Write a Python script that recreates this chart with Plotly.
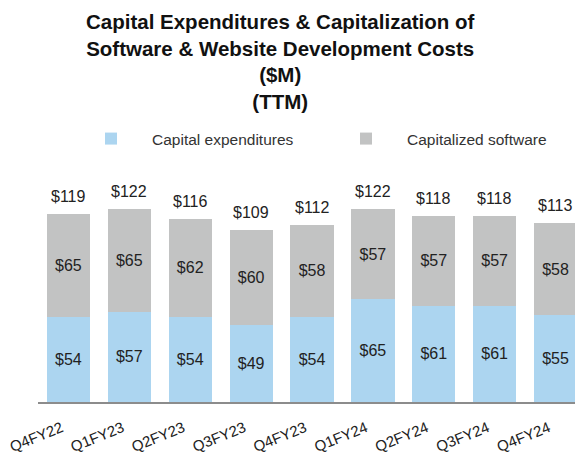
import plotly.graph_objects as go

quarters = ["Q4FY22", "Q1FY23", "Q2FY23", "Q3FY23", "Q4FY23", "Q1FY24", "Q2FY24", "Q3FY24", "Q4FY24"]
capex = [54, 57, 54, 49, 54, 65, 61, 61, 55]
cap_software = [65, 65, 62, 60, 58, 57, 57, 57, 58]
totals = [119, 122, 116, 109, 112, 122, 118, 118, 113]

FONT = "Liberation Sans, Arial, sans-serif"
BLUE = "#acd5f0"
GREY = "#c2c3c3"
# the page body adds an 8px margin, so the figure is sized to fit the window
W, H = 575, 464
T, B, L = 152, 70, 30
PX_PER_UNIT = 1.58

fig = go.Figure()
fig.add_trace(go.Bar(
    x=quarters, y=capex, name="Capital expenditures",
    marker=dict(color=BLUE, line=dict(width=0)),
    text=[f"${v}" for v in capex], textposition="inside", insidetextanchor="middle",
    textfont=dict(size=16, color="#222222", family=FONT),
    hoverinfo="skip",
))
fig.add_trace(go.Bar(
    x=quarters, y=cap_software, name="Capitalized software",
    marker=dict(color=GREY, line=dict(width=0)),
    text=[f"${v}" for v in cap_software], textposition="inside", insidetextanchor="middle",
    textfont=dict(size=16, color="#222222", family=FONT),
    hoverinfo="skip",
))

for q, t in zip(quarters, totals):
    fig.add_annotation(
        x=q, y=t, xref="x", yref="y", text=f"${t}", showarrow=False,
        yanchor="bottom", yshift=7,
        font=dict(size=16, color="#222222", family=FONT),
    )

paper_h = H - T - B
fig.add_annotation(
    xref="paper", yref="paper", x=(272 - L) / (W - L), y=1 + T / paper_h,
    xanchor="center", yanchor="top", showarrow=False, align="center",
    text="<b>Capital Expenditures & Capitalization of<br>Software & Website Development Costs<br>($M)<br>(TTM)</b>",
    font=dict(size=20.5, color="#111111", family=FONT),
)

fig.update_layout(
    width=W, height=H,
    barmode="stack", bargap=0.29,
    paper_bgcolor="white", plot_bgcolor="white",
    margin=dict(l=L, r=0, t=T, b=B, autoexpand=False),
    font=dict(family=FONT, color="#222222"),
    legend=dict(
        orientation="h", xref="container", yref="container",
        x=62 / W, y=1 - 131 / H, xanchor="left", yanchor="middle",
        font=dict(size=15.5, color="#333333", family=FONT),
        traceorder="normal", itemwidth=72,
        entrywidth=168, entrywidthmode="pixels",
        bgcolor="rgba(0,0,0,0)",
    ),
    showlegend=True,
    uniformtext=dict(minsize=8, mode="show"),
)
fig.update_xaxes(
    showline=True, linecolor="#8c8c8c", linewidth=1.5,
    tickangle=-22, tickfont=dict(size=15, color="#222222", family=FONT),
    ticks="", showgrid=False, automargin=False,
    range=[-0.5, 8.45], ticklabelstandoff=10, ticklabelshift=-7,
)
fig.update_yaxes(
    visible=False, range=[0, (H - B - T) / PX_PER_UNIT], showgrid=False, zeroline=False,
    automargin=False,
)

fig.write_html("out.html")
